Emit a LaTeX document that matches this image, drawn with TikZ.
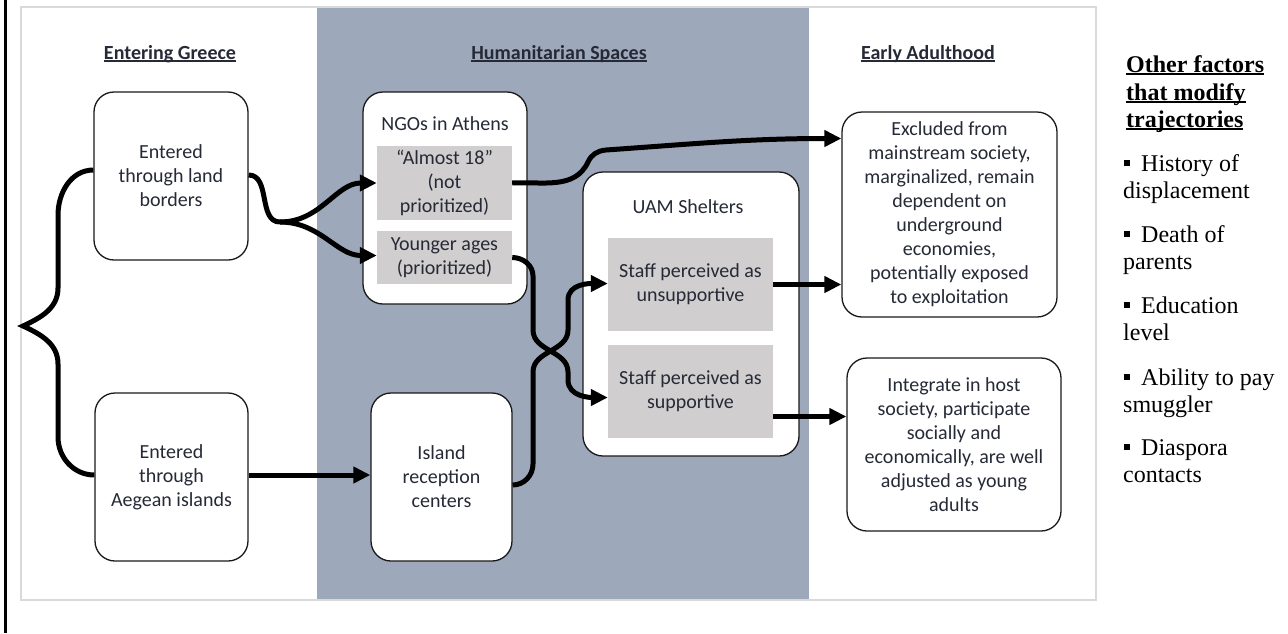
\documentclass[tikz,border=0pt]{standalone}
\usepackage{fontspec}
\setmainfont{Carlito}
\newfontfamily\factorfont{Liberation Serif}
\usepackage{xcolor}
\usepackage{tikz}
\usetikzlibrary{arrows.meta}
\definecolor{bandblue}{HTML}{9DA8BA}
\definecolor{stagegray}{HTML}{D0CECE}
\definecolor{panelline}{HTML}{D9D9D9}
\definecolor{boxtext}{HTML}{262A36}
\newcommand{\ulword}[1]{\setbox0\hbox{#1}\leavevmode\rlap{\rule[-3pt]{\wd0}{1.6pt}}\box0}

\begin{document}
\begin{tikzpicture}[x=1pt,y=1pt,
    stage/.style={draw=black!90, line width=1.3pt, rounded corners=20pt, fill=white,
        inner sep=0pt, align=center, text=boxtext, font=\fontsize{20}{24}\selectfont},
    substage/.style={fill=stagegray, inner sep=0pt, align=center, text=boxtext,
        font=\fontsize{20}{24}\selectfont},
    boxtitle/.style={anchor=base, inner sep=0pt, text=boxtext, font=\fontsize{20}{24}\selectfont},
    heading/.style={anchor=base, inner sep=0pt, text=boxtext, font=\bfseries\fontsize{20}{24}\selectfont},
    factor/.style={anchor=base west, inner sep=0pt, font=\factorfont\fontsize{24}{27}\selectfont},
    flow/.style={line width=5pt, black},
    flowarrow/.style={flow, -{Triangle[length=17pt,width=16pt]}}]
            \useasboundingbox (0,0) rectangle (1288,-633);

            % Panel and middle band
            \fill[bandblue] (317,-7.75) rectangle (809,-599.25);
            \draw[panelline, line width=1.5pt] (21,-7) rectangle (1096,-600);
            \draw[line width=3pt] (5.5,0) -- (5.5,-633);

            % Headings
            \node[heading] (h1) at (170,-59) {\ulword{Entering Greece}};
            \node[heading] (h2) at (559,-59) {\ulword{Humanitarian Spaces}};
            \node[heading] (h3) at (928,-59) {\ulword{Early Adulthood}};

            % Entering Greece
            \node[stage, minimum width=154pt, minimum height=168pt] (land) at (171,-176) {Entered\\through land\\borders};
            \node[stage, minimum width=153pt, minimum height=168pt] (aegean) at (171.5,-477) {Entered\\through\\Aegean islands};

            % Humanitarian spaces
            \node[stage, minimum width=164pt, minimum height=212pt] (ngo) at (445,-198) {};
            \node[boxtitle] (ngotitle) at (445,-130) {NGOs in Athens};
            \node[substage, minimum width=135pt, minimum height=74pt] (almost) at (444.5,-183) {“Almost 18”\\(not\\prioritized)};
            \node[substage, minimum width=135pt, minimum height=53pt] (younger) at (444.5,-257.5) {Younger ages\\(prioritized)};
            \node[stage, minimum width=141pt, minimum height=168pt] (island) at (441.5,-477) {Island\\reception\\centers};

            \node[stage, minimum width=216pt, minimum height=284pt] (uam) at (691,-314) {};
            \node[boxtitle] (uamtitle) at (688,-213) {UAM Shelters};
            \node[substage, minimum width=165pt, minimum height=93pt] (unsup) at (690.5,-284.5) {Staff perceived as\\unsupportive};
            \node[substage, minimum width=165pt, minimum height=93pt] (sup) at (690.5,-391.5) {Staff perceived as\\supportive};

            % Early adulthood
            \node[stage, minimum width=215pt, minimum height=205pt] (excl) at (949.5,-214.5) {Excluded from\\mainstream society,\\marginalized, remain\\dependent on\\underground\\economies,\\potentially exposed\\to exploitation};
            \node[stage, minimum width=214pt, minimum height=173pt] (integ) at (954,-444.5) {Integrate in host\\society, participate\\socially and\\economically, are well\\adjusted as young\\adults};

            % Brace on the left
            \coordinate (tip) at (23,-326);
            \draw[flow, line join=miter] ([yshift=6pt]land.west) to[out=180,in=90] (58,-215) -- (58,-288)
                to[out=-90,in=25] (tip) to[out=-25,in=90] (58,-364) -- (58,-437)
                to[out=-90,in=180] ([yshift=2pt]aegean.west);

            % Land borders to NGOs
            \coordinate (split) at (280,-222);
            \draw[flow] ([yshift=1pt]land.east) to[out=0,in=180] (split);
            \draw[flowarrow] (split) to[out=0,in=180] (almost.west);
            \draw[flowarrow] (split) to[out=0,in=180] ([yshift=2pt]younger.west);

            % Aegean islands to reception centers
            \draw[flowarrow] ([yshift=2pt]aegean.east) -- ([yshift=2pt]island.west);

            % Almost 18 to exclusion
            \draw[flowarrow] (almost.east) to[out=3,in=-115] (588,-162)
                to[out=65,in=185] (606,-150) to[out=4,in=180] ([yshift=76pt]excl.west);

            % Crossing into the shelters
            \draw[flowarrow] (younger.east) to[out=0,in=90] (533,-276) -- (533,-330)
                to[out=-90,in=90] (568,-372) -- (568,-380) to[out=-90,in=180] ([yshift=-6pt]sup.west);
            \draw[flowarrow] ([yshift=-8pt]island.east) to[out=0,in=-90] (533,-464) -- (533,-372)
                to[out=90,in=-90] (568,-330) -- (568,-300) to[out=90,in=180] ([yshift=1pt]unsup.west);

            % Shelters to early adulthood
            \draw[flowarrow] (unsup.east) -- (unsup.east -| excl.west);
            \draw[flowarrow] ([yshift=-25pt]sup.east) -- ([yshift=-25pt]sup.east -| integ.west);

            % Other factors
            \node[factor, font=\factorfont\bfseries\fontsize{24}{27}\selectfont] (ft1) at (1126,-72) {\ulword{Other factors}};
            \node[factor, font=\factorfont\bfseries\fontsize{24}{27}\selectfont] (ft2) at (1126,-100) {\ulword{that modify}};
            \node[factor, font=\factorfont\bfseries\fontsize{24}{27}\selectfont] (ft3) at (1126,-127) {\ulword{trajectories}};
            \foreach \y/\first/\second [count=\i] in {171/History of/displacement, 242/Death of/parents,
                    313/Education/level, 385/Ability to pay/smuggler, 455/Diaspora/contacts} {
                \node[factor] (fa\i) at (1124,-\y) {\rule[5pt]{6pt}{6pt}\hspace{11pt}\first};
                \node[factor] (fb\i) at (1123,-\y-27) {\second};
            }
        \end{tikzpicture}
\end{document}
